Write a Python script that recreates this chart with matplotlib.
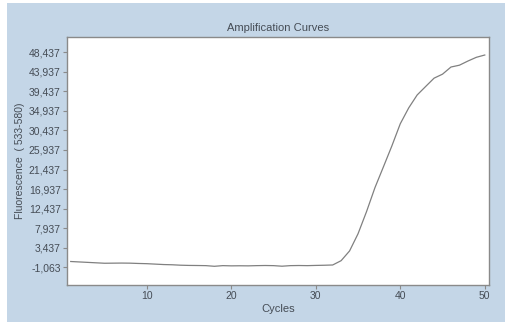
import matplotlib
matplotlib.use("Agg")
import matplotlib.pyplot as plt
from matplotlib.patches import Rectangle
from matplotlib.ticker import FixedLocator

cycles = list(range(1, 51))
fluor = [300, 200, 100, 0, -100, -80, -60, -80, -150, -200,
         -300, -400, -450, -550, -600, -620, -650, -800, -650, -700,
         -680, -700, -650, -620, -650, -780, -650, -620, -650, -600,
         -560, -500, 490, 2730, 6670, 11730, 17260, 22030, 26840, 31960,
         35610, 38580, 40520, 42440, 43360, 45000, 45420, 46370, 47230, 47760]
y_ticks = [-1063, 3437, 7937, 12437, 16937, 21437, 25937, 30437,
           34937, 39437, 43937, 48437]
x_ticks = [10, 20, 30, 40, 50]

bg = "#c4d6e7"
txt = "#454c55"

plt.rcParams['font.family'] = ['Liberation Sans', 'DejaVu Sans']

fig = plt.figure(figsize=(5.07, 3.22), dpi=100)
fig.patch.set_facecolor("white")
# light blue panel behind everything, white strips left / top / right
fig.patches.append(Rectangle((7 / 507, 0), 498 / 507, 319 / 322,
                             transform=fig.transFigure, facecolor=bg,
                             edgecolor="none", zorder=-10))

ax = fig.add_axes([67 / 507, 37 / 322, 422 / 507, 248 / 322])
ax.set_zorder(1)
ax.set_facecolor("white")
ax.plot(cycles, fluor, color="#808080", linewidth=0.9)

ax.set_xlim(0.56, 50.5)
ax.set_ylim(-5100, 51900)
ax.yaxis.set_major_locator(FixedLocator(y_ticks))
ax.set_yticklabels([f"{v:,}" for v in y_ticks])
ax.xaxis.set_major_locator(FixedLocator(x_ticks))

for s in ax.spines.values():
    s.set_color("#8a8a8a")
    s.set_linewidth(1.0)
ax.tick_params(which="major", length=3, color="#8a8a8a", labelsize=7.5,
               labelcolor=txt, pad=1.5)

ax.set_title("Amplification Curves", fontsize=8, color=txt, pad=4)
ax.set_xlabel("Cycles", fontsize=8, color=txt, labelpad=2)
ax.set_ylabel("Fluorescence  ( 533-580)", fontsize=7.5, color=txt, labelpad=3)

fig.savefig("out.png", dpi=100)
